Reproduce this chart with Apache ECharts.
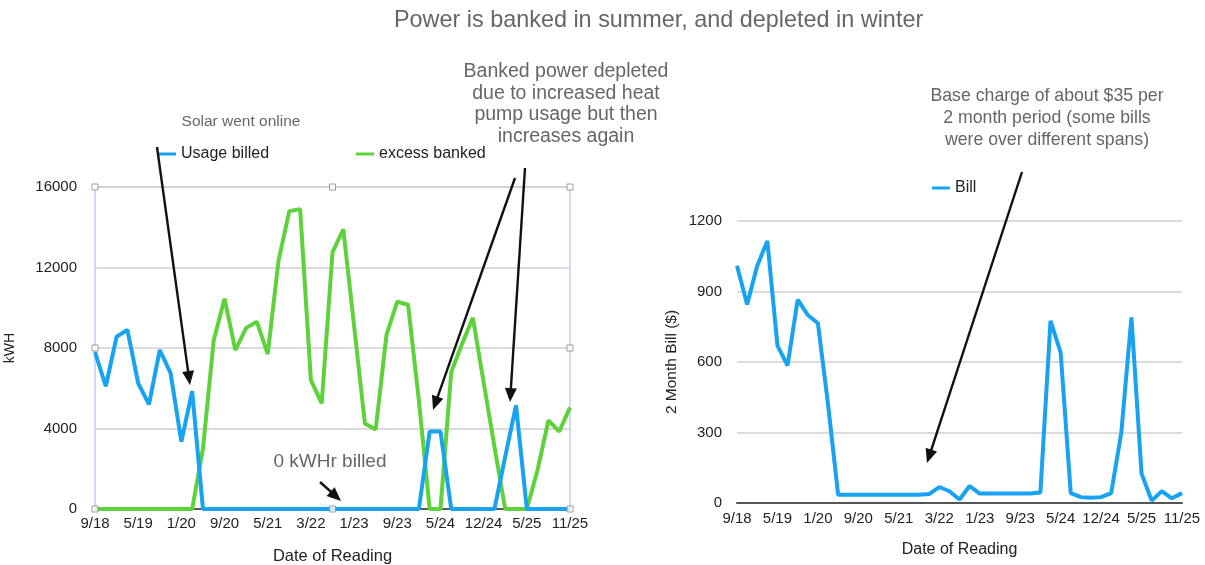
<!DOCTYPE html>
<html><head><meta charset="utf-8">
<script src="https://cdn.jsdelivr.net/npm/echarts@6/dist/echarts.min.js"></script>
<style>html,body{margin:0;padding:0;background:#fff;}#c{width:1205px;height:565px;}</style>
</head><body><div id="c"></div>
<script>
const dates = ['9/18','11/18','1/19','3/19','5/19','7/19','9/19','11/19','1/20','3/20','5/20','7/20',
  '9/20','11/20','1/21','3/21','5/21','7/21','9/21','12/21','3/22','5/22','7/22','10/22',
  '1/23','3/23','5/23','7/23','9/23','11/23','1/24','3/24','5/24','7/24','9/24','10/24',
  '12/24','2/25','3/25','4/25','5/25','7/25','8/25','10/25','11/25'];
const usageBilled = [7800,6100,8560,8900,6250,5200,7900,6750,3350,5850,0,0,
  0,0,0,0,0,0,0,0,0,0,0,0,
  0,0,0,0,0,0,0,3850,3850,0,0,0,
  0,0,2600,5150,0,0,0,0,0];
const excessBanked = [0,0,0,0,0,0,0,0,0,0,3000,8400,
  10450,7900,9000,9300,7700,12350,14800,14900,6400,5250,12750,13900,
  9100,4250,3950,8650,10300,10150,5400,0,0,6800,8200,9500,
  6300,3100,0,0,0,1950,4400,3850,5050];
const bill = [1010,845,1010,1115,670,585,865,800,765,420,35,35,
  35,35,35,35,35,35,35,38,68,50,15,72,
  40,40,40,40,40,40,45,775,640,42,25,22,
  25,42,300,790,125,10,50,20,42];
const kwhTicks = {min:0, max:16000, interval:4000};
const billTicks = {min:0, max:1200, interval:300};

const BLUE = '#17A2F2', GREEN = '#5DD23A';
const FONT = '"Liberation Sans", Arial, sans-serif';
const chart = echarts.init(document.getElementById('c'));

function arrow(x1,y1,x2,y2){
  const dx=x2-x1, dy=y2-y1, L=Math.sqrt(dx*dx+dy*dy), ux=dx/L, uy=dy/L;
  const hl=14, hw=6;
  const bx=x2-ux*hl, by=y2-uy*hl;
  return [
    {type:'line', z:100, shape:{x1:x1,y1:y1,x2:bx+ux*2,y2:by+uy*2}, style:{stroke:'#111', lineWidth:2.4}},
    {type:'polygon', z:100, shape:{points:[[x2,y2],[bx-uy*hw,by+ux*hw],[bx+uy*hw,by-ux*hw]]}, style:{fill:'#111'}}
  ];
}
function txt(x,y,s,fs,lh){
  return {type:'text', z:100, x:x, y:y, style:{text:s, fill:'#666', font:fs+'px '+FONT, textAlign:'center', textVerticalAlign:'top', lineHeight:lh||fs*1.15}};
}
const handles = [[0,0],[22,0],[44,0],[0,8000],[44,8000],[0,16000],[22,16000],[44,16000]];

const axisLabelStyle = {color:'#222', fontSize:15, fontFamily:FONT};
const plain = v => String(v);
const legendText = {color:'#222', fontSize:16, fontFamily:FONT};
chart.setOption({
  animation:false,
  textStyle:{fontFamily:FONT},
  title:{text:'Power is banked in summer, and depleted in winter', left:389, top:4,
    textStyle:{color:'#666', fontSize:23.4, fontWeight:'normal', fontFamily:FONT}},
  legend:[
    {data:['Usage billed'], left:153, top:141, itemWidth:18, itemHeight:3, itemGap:12, icon:'rect', textStyle:legendText},
    {data:['excess banked'], left:351, top:141, itemWidth:18, itemHeight:3, icon:'rect', textStyle:legendText},
    {data:['Bill'], left:927, top:175, itemWidth:18, itemHeight:3, icon:'rect', textStyle:legendText}
  ],
  grid:[
    {left:95, top:187, width:475, height:322, show:true, borderColor:'#9fb8ee', borderWidth:1, backgroundColor:'transparent', outerBoundsMode:'none', containLabel:false},
    {left:737, top:221, width:445, height:282, outerBoundsMode:'none', containLabel:false}
  ],
  xAxis:[
    {gridIndex:0, type:'category', data:dates, boundaryGap:false,
      axisLine:{lineStyle:{color:'#333', width:1.5}}, axisTick:{show:false},
      axisLabel:Object.assign({interval:3, margin:7, showMaxLabel:true}, axisLabelStyle),
      name:'Date of Reading', nameLocation:'middle', nameGap:39, nameTextStyle:{color:'#222', fontSize:16.5, fontFamily:FONT}},
    {gridIndex:1, type:'category', data:dates, boundaryGap:false,
      axisLine:{lineStyle:{color:'#555', width:2}}, axisTick:{show:false},
      axisLabel:Object.assign({interval:3, margin:8, showMaxLabel:true}, axisLabelStyle),
      name:'Date of Reading', nameLocation:'middle', nameGap:39, nameTextStyle:{color:'#222', fontSize:16, fontFamily:FONT}}
  ],
  yAxis:[
    {gridIndex:0, type:'value', min:kwhTicks.min, max:kwhTicks.max, interval:kwhTicks.interval,
      axisLine:{show:false}, axisTick:{show:false},
      splitLine:{lineStyle:{color:'#cfcfcf', width:1.5}},
      axisLabel:Object.assign({margin:18, formatter:plain}, axisLabelStyle),
      name:'kWH', nameLocation:'middle', nameGap:78, nameTextStyle:{color:'#222', fontSize:14, fontFamily:FONT}},
    {gridIndex:1, type:'value', min:billTicks.min, max:billTicks.max, interval:billTicks.interval,
      axisLine:{show:false}, axisTick:{show:false},
      splitLine:{lineStyle:{color:'#cfcfcf', width:1.5}},
      axisLabel:Object.assign({margin:15, formatter:plain}, axisLabelStyle),
      name:'2 Month Bill ($)', nameLocation:'middle', nameGap:57, nameTextStyle:{color:'#222', fontSize:15.5, fontFamily:FONT}}
  ],
  series:[
    {name:'excess banked', type:'line', xAxisIndex:0, yAxisIndex:0, data:excessBanked, symbol:'none',
      lineStyle:{color:GREEN, width:4}, itemStyle:{color:GREEN}, z:3},
    {name:'Usage billed', type:'line', xAxisIndex:0, yAxisIndex:0, data:usageBilled, symbol:'none',
      lineStyle:{color:BLUE, width:4}, itemStyle:{color:BLUE}, z:4},
    {name:'handles', type:'scatter', xAxisIndex:0, yAxisIndex:0, data:handles, symbol:'rect', symbolSize:6,
      itemStyle:{color:'#fff', borderColor:'#888', borderWidth:1}, z:10, silent:true, clip:false},
    {name:'Bill', type:'line', xAxisIndex:1, yAxisIndex:1, data:bill, symbol:'none',
      lineStyle:{color:BLUE, width:4}, itemStyle:{color:BLUE}, z:3}
  ],
  graphic:[].concat(
    arrow(157,147,190,385),
    arrow(515,178,433,410),
    arrow(525,168,510,402),
    arrow(1022,172,927,463),
    arrow(320,482,341,501),
    [txt(241,113,'Solar went online',15.5),
     txt(566,61,'Banked power depleted\ndue to increased heat\npump usage but then\nincreases again',19.5,21.6),
     txt(1047,85,'Base charge of about $35 per\n2 month period (some bills\nwere over different spans)',17.7,22),
     txt(330,451,'0 kWHr billed',19)]
  )
});
</script></body></html>
